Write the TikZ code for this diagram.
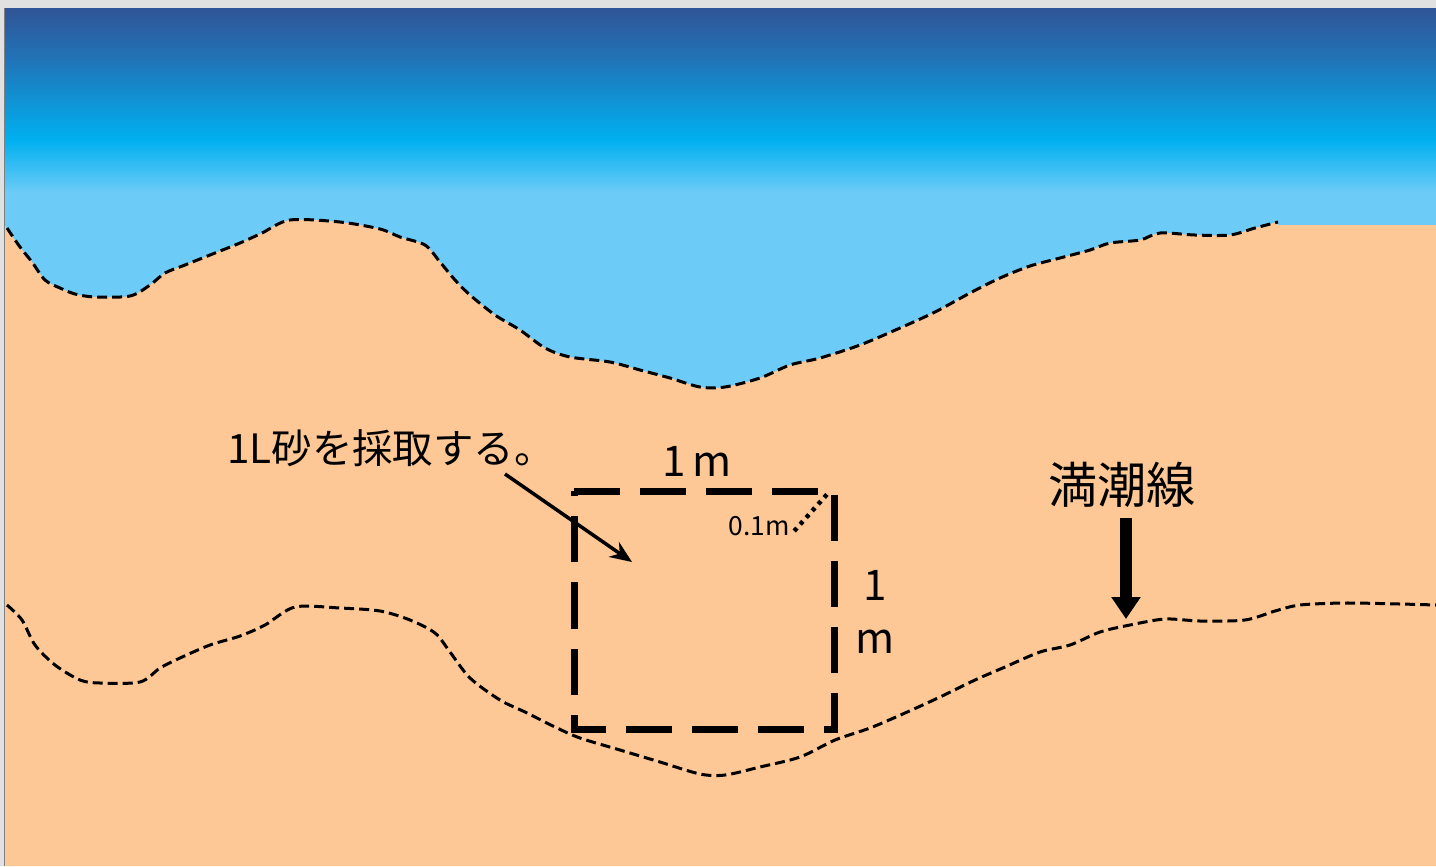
\documentclass[tikz,border=0pt]{standalone}
\usepackage{fontspec}
\setmainfont{Noto Sans CJK JP}
\usepackage{tikz}
\usetikzlibrary{arrows.meta}

\definecolor{frame}{HTML}{E1E1E1}
\definecolor{skytop}{HTML}{2F5597}
\definecolor{skymid}{HTML}{2271B4}
\definecolor{skybright}{HTML}{00B0F0}
\definecolor{water}{HTML}{6CCBF7}
\definecolor{sand}{HTML}{FDC896}

\begin{document}
\begin{tikzpicture}[
            x=0.01cm, y=-0.01cm, % one unit per pixel, y downwards
            shore/.style={dash pattern=on 0.1cm off 0.05cm, line width=0.03cm}, % dashed water lines
            quadrat/.style={dash pattern=on 0.46cm off 0.2cm, line width=0.07cm}, % 1m x 1m frame
            label/.style={inner sep=0pt, font=\fontsize{12}{14}\selectfont}
            ]

    \useasboundingbox (0,0) rectangle (1436,866);
    \fill[frame] (0,0) rectangle (1436,866);
    \draw[gray, line width=0.01cm] (4,8) -- (4,866);

    % sky and sea
    \fill[water] (5,8) rectangle (1436,400);
    \shade[top color=skytop, bottom color=skymid] (5,8) rectangle (1436,55);
    \shade[top color=skymid, bottom color=skybright] (5,55) rectangle (1436,140);
    \shade[top color=skybright, bottom color=water] (5,140) rectangle (1436,192);

    % sand below the water line
    \fill[sand] plot[smooth, tension=0.5] coordinates {
        (5,226) (20,247) (32,262) (45,280) (60,288) (75,294) (95,297) (130,296)
        (150,285) (165,273) (185,265) (210,255) (240,243) (262,233) (290,220)
        (340,222) (380,229) (400,237) (425,245) (440,262) (455,280) (470,295)
        (495,315) (520,330) (545,348) (570,357) (610,362) (640,370) (670,378)
        (700,387) (725,387) (760,378) (790,365) (820,358) (860,345) (900,328)
        (935,312) (970,293) (1000,278) (1030,266) (1060,258) (1090,250) (1110,243)
        (1140,240) (1160,233) (1195,235) (1230,235) (1255,228) (1278,222)}
        -- (1278,225) -- (1436,225) -- (1436,866) -- (5,866) -- cycle;

    % present water line
    \draw[shore] plot[smooth, tension=0.5] coordinates {
        (7,228) (20,247) (32,262) (45,280) (60,288) (75,294) (95,297) (130,296)
        (150,285) (165,273) (185,265) (210,255) (240,243) (262,233) (290,220)
        (340,222) (380,229) (400,237) (425,245) (440,262) (455,280) (470,295)
        (495,315) (520,330) (545,348) (570,357) (610,362) (640,370) (670,378)
        (700,387) (725,387) (760,378) (790,365) (820,358) (860,345) (900,328)
        (935,312) (970,293) (1000,278) (1030,266) (1060,258) (1090,250) (1110,243)
        (1140,240) (1160,233) (1195,235) (1230,235) (1255,228) (1278,222)};

    % high tide line
    \draw[shore] plot[smooth, tension=0.5] coordinates {
        (7,605) (22,620) (35,645) (55,665) (80,680) (100,683) (140,682) (160,668)
        (180,658) (210,645) (240,636) (265,625) (295,607) (340,608) (380,611)
        (410,620) (435,633) (450,652) (470,678) (500,700) (525,712) (555,727)
        (580,738) (620,750) (660,762) (700,774) (725,775) (760,767) (800,757)
        (835,740) (870,728) (905,713) (940,697) (975,680) (1005,667) (1040,652)
        (1070,645) (1100,632) (1130,625) (1165,619) (1200,621) (1245,620)
        (1275,611) (1300,605) (1345,603) (1400,604) (1436,605)};

    % sampling frame
    \draw[quadrat] (574,491) -- (834,491) -- (834,729) -- (574,729) -- cycle;
    \node[label] (width) at (697,461) {1\,m};
    \node[label, align=center] (height) at (875,612) {1\\[1pt]m};
    \node[inner sep=0pt, font=\fontsize{7.5}{9}\selectfont] (depth) at (759,526) {0.1m};
    \coordinate (corner) at (830,491);
    \draw[line width=0.045cm, dash pattern=on 0.04cm off 0.05cm] (depth.east) ++(4,5) -- (corner);

    % where the sand is taken
    \node[label, font=\fontsize{11.5}{14}\selectfont] (sample) at (391,448) {1L砂を採取する。};
    \coordinate (take) at (505,474);
    \coordinate (spot) at (632,562);
    \draw[line width=0.035cm, -{Stealth[length=0.22cm, width=0.18cm]}] (take) -- (spot);

    % high tide mark
    \node[label, font=\fontsize{14}{16}\selectfont] (tide) at (1122,485) {満潮線};
    \coordinate (mark) at (1126,619);
    \draw[line width=0.12cm, -{Triangle[length=0.22cm, width=0.28cm]}] (tide.south) ++(4,10) -- (mark);

\end{tikzpicture}
\end{document}
